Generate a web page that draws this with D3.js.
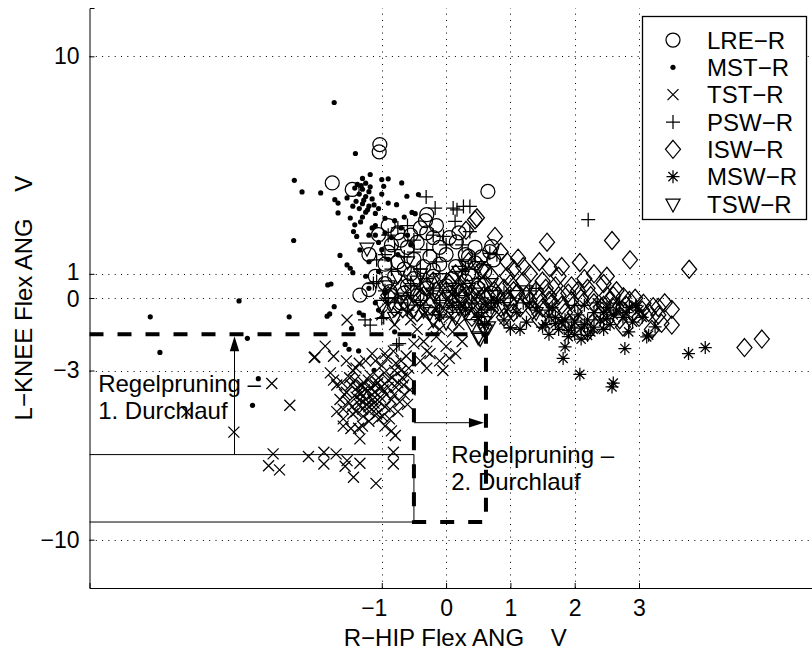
<!DOCTYPE html>
<html><head><meta charset="utf-8">
<script src="https://cdn.jsdelivr.net/npm/d3@7"></script>
<style>
body{margin:0;background:#fff}
text{font-family:"Liberation Sans",Arial,Helvetica,sans-serif;fill:#000}
</style></head><body>
<svg id="chart" width="812" height="650"></svg>
<script>
// ---------- data ----------
const xTicks = [-1, 0, 1, 2, 3];
const yTicks = [-10, -3, 0, 1, 10];
const xLabel = "R\u2212HIP Flex ANG    V";
const yLabel = "L\u2212KNEE Flex ANG    V";
const seriesNames = ["LRE\u2212R","MST\u2212R","TST\u2212R","PSW\u2212R","ISW\u2212R","MSW\u2212R","TSW\u2212R"];
const seriesMarkers = ["circle","dot","times","plus","diamond","asterisk","triangle"];

const lre = [[-1.03,6.35],[-1.04,6.05],[-1.77,4.76],[-1.46,4.49],[0.65,4.41],[-0.30,3.45],[-1.05,2.62],[-1.34,0.12],[-0.87,0.26],[0.30,1.79],[0.35,1.72],[0.68,1.92],[0.74,1.58],[0.16,2.32],[0.71,2.13],[-0.32,3.2],[-0.4,2.9],[-0.55,2.6],[-0.7,2.4],[-0.85,2.2],[-0.6,2.1],[-0.45,2.3],[-0.2,2.5],[-0.1,2.1],[0.0,1.8],[-0.25,1.7],[-0.5,1.6],[-0.75,1.5],[-0.95,1.4],[-0.65,1.2],[-0.35,1.3],[-0.1,1.4],[0.15,1.3],[0.45,1.45],[0.6,1.1],[-0.8,0.9],[-0.5,0.8],[-0.2,0.9],[0.1,0.8],[-0.95,0.6],[-0.6,0.5],[-0.3,0.4],[0.0,0.5],[0.3,0.7],[-1.1,0.9],[-1.2,1.8],[-0.9,3.0],[0.2,2.7],[-0.15,3.0],[0.45,2.1],[0.55,1.7],[-0.65,0.2],[-1.2,0.35],[-0.85,0.1],[-0.7,-0.2],[-0.45,0.1],[-0.2,-0.1],[0.05,0.2],[0.25,0.3],[0.5,0.4],[0.7,0.2],[-0.9,1.9],[-0.75,2.7],[-0.3,2.7],[0.05,2.5],[-0.55,1.0],[-0.2,1.15],[0.35,1.0]];
const mst = [[-1.74,8.09],[-1.41,5.98],[-2.36,4.87],[-2.24,4.39],[-1.95,4.35],[-2.37,2.38],[-1.18,5.11],[-1.0,4.9],[-0.9,4.93],[-0.69,4.76],[-0.97,4.62],[-1.3,4.95],[-1.25,4.75],[-1.38,4.7],[-1.42,4.55],[-1.3,4.5],[-1.2,4.4],[-1.35,4.3],[-1.25,4.2],[-1.15,4.1],[-1.4,4.0],[-1.3,3.9],[-1.2,3.8],[-1.35,3.7],[-1.25,3.55],[-1.1,3.5],[-1.3,3.35],[-1.54,4.14],[-1.73,4.07],[-1.68,3.93],[-1.68,3.52],[-1.49,3.31],[-1.42,3.03],[-1.44,2.75],[-1.39,2.55],[-0.61,4.21],[-0.43,4.28],[-0.9,3.93],[-0.77,3.86],[-0.53,3.54],[-0.48,3.49],[-1.65,1.76],[-1.34,1.99],[-1.54,1.37],[-1.49,1.23],[-1.45,1.05],[-1.79,0.58],[-1.74,-0.36],[-1.10,-0.2],[-2.44,-0.78],[-1.81,-0.66],[-1.85,-0.75],[-1.35,-0.61],[-1.29,-0.71],[-1.47,-1.26],[-1.57,-1.92],[-1.51,-2.12],[-1.36,-2.19],[-2.92,-3.34],[-3.01,-4.44],[-1.12,-2.99],[-3.22,-0.12],[-4.60,-0.78],[-4.45,-2.25],[-3.09,-1.67],[-1.84,0.54],[-1.1,3.0],[-0.95,2.7],[-1.05,2.3],[-0.85,2.5],[-1.2,2.6],[-1.15,2.9],[-0.8,3.2],[-0.7,2.9],[-0.6,2.6],[-1.0,2.0],[-0.75,1.8],[-1.2,1.5],[-1.05,1.1],[-0.9,1.6],[-1.25,0.9],[-1.2,0.4],[-0.95,0.2],[-1.05,-0.5],[-0.8,-1.4],[-1.32,4.65],[-1.28,4.05],[-1.22,3.65],[-1.18,4.6],[-1.12,3.85],[-1.05,3.7],[-1.0,4.3],[-0.95,3.3],[-1.45,3.8],[-1.33,3.15],[-1.1,2.6],[-0.65,3.35],[-0.55,2.2]];
const tst = [[-1.54,-0.91],[-1.88,-1.99],[-2.04,-2.44],[-1.75,-2.41],[-2.71,-3.54],[-2.43,-4.44],[-2.69,-6.45],[-2.76,-6.94],[-2.59,-7.11],[-2.14,-6.56],[-1.90,-6.38],[-1.90,-6.87],[-1.71,-6.45],[-1.54,-6.73],[-1.57,-6.96],[-1.34,-6.84],[-1.44,-7.42],[-1.09,-7.67],[-0.82,-6.38],[-0.82,-6.87],[-0.79,-5.69],[-1.34,-5.83],[-1.36,-5.39],[-3.30,-5.55],[-4.03,-4.72],[-2.05,-2.46],[-1.8,-3.1],[-1.7,-3.6],[-1.65,-4.2],[-1.6,-4.6],[-1.55,-3.9],[-1.5,-3.3],[-1.45,-4.8],[-1.4,-4.1],[-1.38,-3.7],[-1.35,-4.4],[-1.32,-3.95],[-1.3,-4.6],[-1.28,-3.5],[-1.25,-4.2],[-1.22,-3.85],[-1.2,-4.5],[-1.18,-3.2],[-1.15,-4.0],[-1.12,-4.35],[-1.1,-3.6],[-1.08,-4.8],[-1.05,-3.3],[-1.02,-4.1],[-1.0,-2.8],[-0.98,-3.8],[-0.95,-4.5],[-0.92,-2.5],[-0.9,-3.4],[-0.88,-5.0],[-0.85,-4.2],[-0.82,-2.2],[-0.8,-3.0],[-0.78,-3.7],[-0.75,-4.7],[-0.7,-2.6],[-0.68,-3.3],[-0.65,-4.0],[-0.6,-4.4],[-0.58,-2.9],[-1.25,-2.6],[-1.15,-2.3],[-1.4,-2.9],[-1.6,-5.0],[-1.2,-5.1],[-0.95,-5.3],[-1.48,-5.4],[-0.45,-1.3],[-0.35,-1.8],[-0.25,-2.3],[-0.15,-1.6],[-0.1,-2.6],[0.0,-2.0],[0.1,-1.4],[0.15,-2.3],[-0.3,-2.9],[-0.2,-1.1],[0.25,-1.8],[-0.05,-3.0],[-1.0,-0.7],[-0.8,-1.1],[-0.6,-0.6],[-0.4,-0.4],[-0.95,-0.2],[-0.75,-0.6],[-0.55,-0.9],[-0.35,-0.7],[-0.15,-0.5],[0.05,-0.8],[0.25,-0.3],[0.45,-0.7],[0.6,-0.3],[-0.5,-1.9],[-0.3,-2.2],[-0.1,-1.3],[0.2,-1.1],[0.05,-2.5],[-0.4,-2.6],[-1.75,-3.4],[-1.62,-3.5],[-1.58,-4.0],[-1.52,-4.3],[-1.48,-3.6],[-1.46,-4.5],[-1.42,-3.4],[-1.4,-4.7],[-1.37,-3.9],[-1.34,-4.2],[-1.31,-3.6],[-1.29,-4.9],[-1.27,-3.8],[-1.24,-4.4],[-1.21,-3.4],[-1.19,-4.7],[-1.17,-3.7],[-1.14,-4.2],[-1.11,-3.9],[-1.09,-4.6],[-1.06,-3.5],[-1.04,-4.3],[-1.01,-3.7],[-0.99,-4.9],[-0.96,-3.1],[-0.93,-4.0],[-0.9,-3.7],[-0.87,-4.6],[-0.84,-3.3],[-0.81,-4.0],[-0.78,-2.7],[-0.75,-3.5],[-0.72,-4.3],[-0.7,-3.0],[-0.66,-3.6],[-0.62,-2.4],[-0.6,-3.2],[-0.56,-3.8],[-1.55,-2.6],[-1.45,-3.0],[-1.35,-2.7],[-1.1,-2.6],[-0.95,-2.3],[-1.7,-4.7],[-1.6,-5.3],[-1.3,-5.3],[-1.05,-5.0],[-0.85,-5.5]];
const psw = [[-0.31,4.18],[-0.17,3.72],[0.11,3.72],[0.17,3.65],[0.27,3.79],[0.37,3.79],[0.14,3.17],[-0.04,2.55],[0.37,2.75],[0.68,1.85],[0.79,1.79],[2.21,3.24],[-1.08,1.58],[-1.08,0.68],[-1.0,-0.84],[-1.18,-1.12],[-0.77,-1.95],[-1.26,-0.91],[-1.13,0.6],[-0.97,-0.81],[-0.73,-1.89],[1.0,-1.24],[-0.6,3.0],[-0.5,2.4],[-0.8,2.0],[-0.9,2.6],[-0.3,2.0],[0.0,2.2],[-0.65,1.7],[-0.4,1.2],[-0.15,1.5],[0.3,1.2],[0.5,0.8],[-0.85,1.2],[-0.55,0.6],[-0.2,0.3],[0.2,0.1],[0.6,0.3],[-0.95,0.3],[-0.7,-0.2],[0.9,0.2],[1.2,-0.2],[1.6,-0.5],[2.0,-0.3],[1.4,0.4],[-0.9,0.0],[-0.6,-0.5],[-0.4,-0.1],[-0.1,-0.2],[0.1,-0.4],[0.4,-0.2],[0.7,-0.2],[1.0,0.0],[1.3,0.3],[-0.5,1.9],[-0.2,2.6],[0.25,2.2],[-0.75,2.9],[-0.95,1.8],[0.55,-0.6]];
const isw = [[0.45,3.24],[0.76,2.55],[0.48,3.32],[0.31,2.8],[1.57,2.31],[2.58,2.38],[1.61,1.26],[2.08,1.47],[2.86,1.58],[3.78,1.19],[1.12,1.65],[4.64,-2.05],[4.91,-1.70],[3.51,-0.47],[3.51,-1.12],[3.35,-1.05],[3.22,-0.36],[3.30,-0.39],[3.07,-0.22],[2.94,-0.01],[2.76,0.05],[0.0,0.3],[0.1,-0.2],[0.2,0.5],[0.3,-0.4],[0.4,0.2],[0.5,-0.1],[0.6,0.6],[0.7,-0.5],[0.8,0.1],[0.9,0.4],[1.0,-0.2],[1.1,0.2],[1.2,0.7],[1.3,-0.1],[1.4,0.3],[1.5,-0.4],[1.6,0.1],[1.7,0.5],[1.8,-0.3],[1.9,0.2],[2.0,-0.6],[2.1,0.0],[2.2,0.4],[2.3,-0.2],[2.4,-0.7],[2.5,0.1],[2.6,-0.4],[2.7,-0.9],[2.8,-0.3],[2.9,-0.6],[3.0,-0.8],[3.15,-0.6],[-0.2,0.7],[-0.4,0.0],[-0.6,-0.3],[-0.3,0.5],[0.15,1.0],[0.55,1.2],[0.95,0.9],[1.3,1.0],[1.75,0.9],[2.15,0.8],[2.45,0.6],[1.0,0.6],[0.7,0.9],[0.35,1.5],[0.85,1.9],[1.05,1.2],[1.5,0.7],[1.95,0.5],[2.65,0.3],[2.35,-1.1],[1.9,-1.0],[1.45,-0.9],[0.9,-0.8],[0.4,-0.8],[-0.1,-0.6],[2.2,-1.4],[2.75,-1.2],[3.2,-1.3],[0.25,0.0],[0.65,0.1],[1.05,-0.6],[1.6,-0.1],[2.05,0.3],[2.55,-0.1],[-0.9,0.1],[-0.8,-0.4],[-0.7,0.4],[-0.5,0.2],[-0.45,-0.6],[-0.35,0.1],[-0.25,-0.3],[-0.15,0.3],[-0.05,-0.1],[0.05,0.6],[0.12,-0.5],[0.22,0.2],[0.33,0.4],[0.38,-0.2],[0.48,0.5],[0.55,-0.4],[0.62,0.0],[0.75,0.3],[0.85,-0.4],[0.95,0.0],[1.05,0.3],[1.15,-0.4],[1.25,0.1],[1.35,-0.5],[1.45,0.0],[1.55,0.4],[1.65,-0.2],[1.75,0.1],[1.85,-0.6],[1.95,-0.1],[2.25,0.1],[2.45,-0.3],[2.6,0.1],[2.85,-0.1],[3.05,-0.5],[3.3,-0.7],[3.4,-0.2],[1.2,1.3],[1.45,1.5],[0.95,1.5],[2.3,1.0],[2.5,0.9],[1.8,1.3]];
const msw = [[1.85,-2.02],[1.82,-2.50],[2.08,-3.16],[2.60,-3.52],[2.58,-3.68],[2.78,-2.09],[3.77,-2.30],[4.03,-2.05],[3.12,-1.61],[3.25,-1.19],[2.84,-1.4],[1.0,-1.24],[3.15,-1.54],[0.3,-0.5],[0.5,-0.8],[0.7,-0.4],[0.9,-0.9],[1.1,-0.6],[1.25,-1.0],[1.4,-0.5],[1.55,-1.1],[1.7,-0.8],[1.75,-1.3],[1.85,-0.9],[1.95,-1.2],[2.0,-1.5],[2.05,-0.7],[2.15,-1.1],[2.25,-1.4],[2.3,-0.6],[2.4,-0.9],[2.5,-0.4],[2.55,-1.1],[2.6,-0.7],[2.7,-0.2],[2.8,-0.6],[2.9,-1.0],[2.95,-0.3],[3.05,-0.8],[2.35,-0.2],[2.15,-0.3],[1.65,-0.4],[0.1,-0.3],[-0.1,-0.7],[0.8,-0.1],[1.3,-0.2],[1.9,-1.6],[2.1,-1.7],[1.6,-1.5],[2.45,-1.3],[0.6,-1.1],[1.15,-1.3],[1.5,-1.2],[1.8,-1.0],[1.9,-1.35],[2.0,-1.0],[2.1,-1.25],[2.2,-0.9],[2.3,-1.2],[2.45,-0.6],[2.65,-0.5],[2.75,-0.8],[2.85,-0.4],[3.0,-0.5],[2.5,-0.85],[1.7,-1.05],[1.6,-0.75],[2.2,-1.55]];
const tsw = [[-1.23,2.06],[0.50,1.3],[0.58,-1.26],[0.66,-1.19],[0.5,-1.61],[0.53,-1.67],[0.61,-1.33],[0.58,1.16],[0.30,1.37],[0.6,-0.98],[-0.9,0.5],[-0.7,0.0],[-0.5,-0.5],[-0.3,0.6],[-0.1,-0.3],[0.1,0.4],[0.3,-0.6],[0.45,0.2],[-0.8,-0.8],[-0.4,1.0],[0.0,-1.0],[0.25,0.9],[-0.6,1.5],[-0.2,-0.9],[0.7,0.6],[0.9,-0.4],[-1.0,-0.3],[0.4,-1.1],[0.15,-0.8],[-0.55,0.3],[1.1,0.1],[1.4,-0.6],[-0.85,-0.2],[-0.6,-0.1],[-0.35,-0.5],[-0.2,0.2],[0.05,0.1],[0.2,-0.4],[0.35,0.4],[0.55,-0.2],[0.75,0.1],[-0.75,0.9],[-0.45,0.7],[-0.1,0.8],[0.2,1.1],[0.65,-0.7],[1.0,-0.5],[1.25,0.3],[-0.25,-0.6],[0.45,-0.45]];
const seriesData = [lre, mst, tst, psw, isw, msw, tsw];

// annotation geometry (data units)
const pruneLevel1 = -1.5;
const pruneX = [-0.5, 0.62];
const boxTop = -6.48, boxBottom = -9.27;
const arrow1X = -3.29, arrow2Y = -5.16;
const notes = [
  {x:-5.41, y:-3.89, t:"Regelpruning \u2013"},
  {x:-5.41, y:-5.0,  t:"1. Durchlauf"},
  {x:0.08,  y:-6.83, t:"Regelpruning \u2013"},
  {x:0.08,  y:-7.94, t:"2. Durchlauf"}
];

// ---------- layout ----------
const svg = d3.select("#chart");
const X0 = 89.5, X1 = 821, Y0 = 8, Y1 = 588;
const x = d3.scaleLinear().domain([-5.545, 5.83]).range([X0, X1]);
const y = d3.scaleLinear().domain([-12, 12]).range([Y1, Y0]);
const FS = 24;

const grid = svg.append("g").attr("stroke","#000").attr("stroke-width",1).attr("stroke-dasharray","1,5.3");
grid.selectAll(".gx").data(xTicks).join("line")
  .attr("x1",d=>Math.round(x(d))+0.5).attr("x2",d=>Math.round(x(d))+0.5).attr("y1",Y1).attr("y2",Y0);
grid.selectAll(".gy").data(yTicks).join("line")
  .attr("y1",d=>Math.round(y(d))+0.5).attr("y2",d=>Math.round(y(d))+0.5).attr("x1",X0).attr("x2",X1);

const fmt = d=>d<0?"\u2212"+Math.abs(d):String(d);
const xAxis = d3.axisBottom(x).tickValues(xTicks).tickSize(-5).tickPadding(12).tickFormat(fmt);
const yAxis = d3.axisLeft(y).tickValues(yTicks).tickSize(-5).tickPadding(10).tickFormat(fmt);
const gx = svg.append("g").attr("transform",`translate(0,${Y1})`).call(xAxis);
const gy = svg.append("g").attr("transform",`translate(${X0},0)`).call(yAxis);
[gx,gy].forEach(g=>{
  g.select(".domain").attr("stroke","#000").attr("stroke-width",1);
  g.selectAll(".tick line").attr("stroke","#000");
  g.selectAll(".tick text").attr("font-size",23).attr("font-family","Liberation Sans, Arial, sans-serif").attr("fill","#000");
});
gx.selectAll(".tick text").attr("dx",d=>d<0?-8:0);
// the 1 and 0 labels sit very close together: nudge them apart slightly
gy.selectAll(".tick text").attr("transform",d=>d===1?"translate(0,-2)":d===0?"translate(0,1.5)":null);

svg.append("text").attr("x",(X0+X1)/2).attr("y",646).attr("text-anchor","middle")
  .attr("font-size",FS).style("white-space","pre").text(xLabel);
svg.append("text").attr("transform",`translate(32,${(Y0+Y1)/2}) rotate(-90)`).attr("text-anchor","middle")
  .attr("font-size",FS).style("white-space","pre").text(yLabel);

// ---------- markers ----------
function markerPath(type){
  const p = d3.path();
  switch(type){
    case "circle": p.moveTo(7,0); p.arc(0,0,7,0,2*Math.PI); break;
    case "dot": p.moveTo(2.6,0); p.arc(0,0,2.6,0,2*Math.PI); break;
    case "times": p.moveTo(-5.5,-5.5); p.lineTo(5.5,5.5); p.moveTo(-5.5,5.5); p.lineTo(5.5,-5.5); break;
    case "plus": p.moveTo(-7,0); p.lineTo(7,0); p.moveTo(0,-7); p.lineTo(0,7); break;
    case "diamond": p.moveTo(0,-9); p.lineTo(7.5,0); p.lineTo(0,9); p.lineTo(-7.5,0); p.closePath(); break;
    case "asterisk":
      p.moveTo(-6.5,0); p.lineTo(6.5,0); p.moveTo(0,-6.5); p.lineTo(0,6.5);
      p.moveTo(-4.6,-4.6); p.lineTo(4.6,4.6); p.moveTo(-4.6,4.6); p.lineTo(4.6,-4.6); break;
    case "triangle": p.moveTo(-7,-5); p.lineTo(7,-5); p.lineTo(0,8); p.closePath(); break;
  }
  return p.toString();
}
function styleMarker(sel,type){
  if(type==="dot") sel.attr("fill","#000").attr("stroke","none");
  else sel.attr("fill","none").attr("stroke","#000").attr("stroke-width",1.25);
}

const pts = svg.append("g");
seriesData.forEach((data,i)=>{
  const type = seriesMarkers[i];
  pts.append("g").selectAll("path").data(data).join("path")
    .attr("d",markerPath(type))
    .attr("transform",d=>`translate(${x(d[0])},${y(d[1])})`)
    .call(styleMarker,type);
});

// ---------- annotations ----------
const ann = svg.append("g");
const dashedPts = [[x.domain()[0],pruneLevel1],[pruneX[1],pruneLevel1],[pruneX[1],boxBottom],[pruneX[0],boxBottom],[pruneX[0],pruneLevel1]];
ann.append("path")
  .attr("d",d3.line().x(d=>x(d[0])).y(d=>y(d[1]))(dashedPts))
  .attr("fill","none").attr("stroke","#000").attr("stroke-width",4).attr("stroke-dasharray","14,14");
const solidSegs = [
  [[x.domain()[0],boxTop],[pruneX[0],boxTop]],
  [[x.domain()[0],boxBottom],[pruneX[0],boxBottom]],
  [[pruneX[0],boxTop],[pruneX[0],boxBottom]]
];
ann.selectAll(".seg").data(solidSegs).join("path")
  .attr("d",d3.line().x(d=>x(d[0])).y(d=>y(d[1])))
  .attr("fill","none").attr("stroke","#000").attr("stroke-width",1);

const a1x = x(arrow1X), a1tip = y(pruneLevel1)+2;
ann.append("line").attr("x1",a1x).attr("x2",a1x).attr("y1",y(boxTop)).attr("y2",a1tip+10).attr("stroke","#000");
ann.append("path").attr("d",`M${a1x},${a1tip}L${a1x-4.7},${a1tip+15}L${a1x+4.7},${a1tip+15}Z`).attr("fill","#000");
const a2y = y(arrow2Y), a2tip = x(pruneX[1])-2;
ann.append("line").attr("x1",x(pruneX[0])).attr("x2",a2tip-10).attr("y1",a2y).attr("y2",a2y).attr("stroke","#000");
ann.append("path").attr("d",`M${a2tip},${a2y}L${a2tip-15},${a2y-4.7}L${a2tip-15},${a2y+4.7}Z`).attr("fill","#000");

ann.selectAll(".note").data(notes).join("text")
  .attr("x",d=>x(d.x)).attr("y",d=>y(d.y)).attr("font-size",FS).text(d=>d.t);

// ---------- legend ----------
const L = {x0:642, y0:16, x1:806, y1:219};
const lg = svg.append("g");
lg.append("rect").attr("x",L.x0+0.5).attr("y",L.y0+0.5).attr("width",L.x1-L.x0).attr("height",L.y1-L.y0)
  .attr("fill","#fff").attr("stroke","#000").attr("stroke-width",1.3);
const rowY = d3.scalePoint().domain(seriesNames).range([40,204]);
seriesNames.forEach((n,i)=>{
  const yy = rowY(n);
  const type = seriesMarkers[i];
  lg.append("path").attr("d",markerPath(type)).attr("transform",`translate(673,${yy})`).call(styleMarker,type);
  lg.append("text").attr("x",707).attr("y",yy+8.6).attr("font-size",FS).text(n);
});
</script>
</body></html>
